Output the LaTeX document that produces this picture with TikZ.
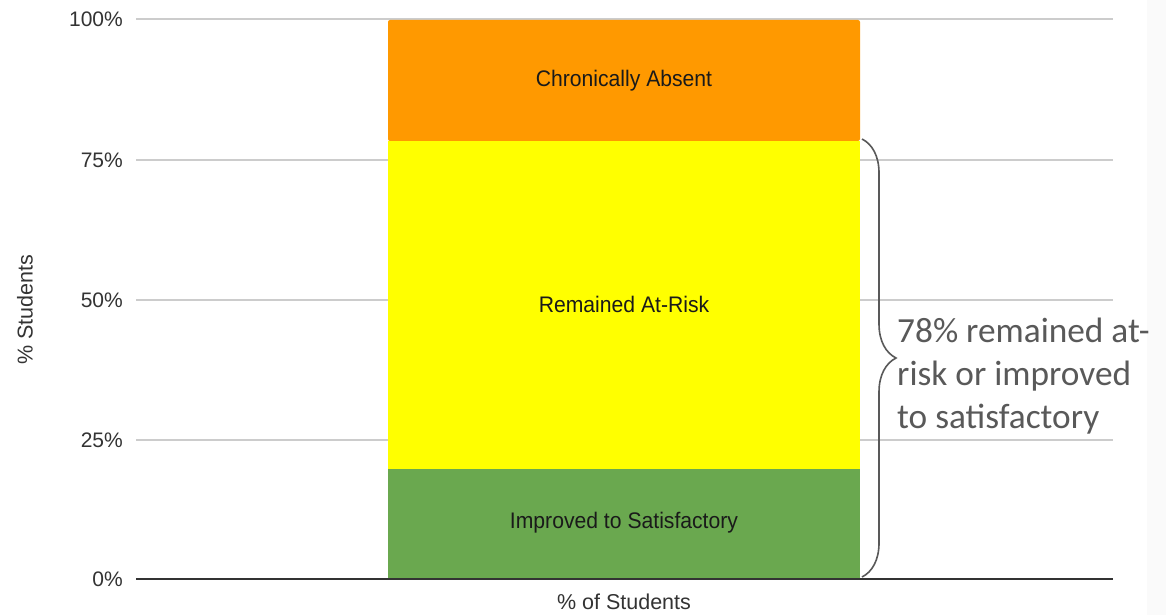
\documentclass[tikz,border=0pt]{standalone}
\usepackage{fontspec}
\setmainfont{Liberation Sans}
\newfontfamily\calib{Carlito}
\usetikzlibrary{decorations.pathreplacing}
\definecolor{orangebar}{HTML}{FF9900}
\definecolor{yellowbar}{HTML}{FFFF00}
\definecolor{greenbar}{HTML}{6AA84F}
\definecolor{gridgray}{HTML}{CCCCCC}
\definecolor{axisdark}{HTML}{333333}
\definecolor{ticktext}{HTML}{333333}
\definecolor{bartext}{HTML}{1A1A1A}
\definecolor{notegray}{HTML}{595959}
\definecolor{stripgray}{HTML}{FAFAFA}
\tikzset{
  gridline/.style={draw=gridgray, line width=1.5pt},
  ticklabel/.style={anchor=east, text=ticktext, font=\fontsize{21}{24}\selectfont, inner sep=0pt},
  barlabel/.style={text=bartext, font=\fontsize{22.5}{26}\selectfont, inner sep=0pt, xscale=0.94},
  axislabel/.style={text=ticktext, font=\fontsize{21.5}{25}\selectfont, inner sep=0pt},
}
\begin{document}
\begin{tikzpicture}[x=1pt,y=-1pt]
\useasboundingbox (0,0) rectangle (1166,615);
\fill[white] (0,0) rectangle (1166,615);
\fill[stripgray] (1147,0) rectangle (1166,615);
% gridlines
\foreach \yy in {19,160,300,440} {
  \draw[gridline] (136,\yy) -- (1113,\yy);
}
% tick labels
\node[ticklabel] (t100) at (123,19) {100\%};
\node[ticklabel] (t75) at (123,160) {75\%};
\node[ticklabel] (t50) at (123,300) {50\%};
\node[ticklabel] (t25) at (123,440) {25\%};
\node[ticklabel] (t0) at (123,579) {0\%};
% bar segments
\fill[orangebar, rounded corners=2pt] (388,141) -- (388,20) -- (860,20) -- (860,141) -- cycle;
\fill[yellowbar] (388,141) rectangle (860,469);
\fill[greenbar] (388,469) rectangle (860,579);
% baseline
\draw[draw=axisdark, line width=2pt] (136,579) -- (1113,579);
% bar labels
\node[barlabel] (ca) at (624,81) {Chronically Absent};
\node[barlabel] (ra) at (624,304) {Remained At-Risk};
\node[barlabel] (is) at (624,523) {Improved to Satisfactory};
% axis labels
\node[axislabel] (xl) at (624,602) {\% of Students};
\node[axislabel, rotate=90] (yl) at (25,310) {\% Students};
% brace
\coordinate (btop) at (862,139);
\coordinate (bbot) at (862,577);
\draw[draw=notegray, line width=1.6pt, decorate, decoration={brace, amplitude=34pt, aspect=0.5}] (btop) -- (bbot);
% note
\node[anchor=north west, align=left, text=notegray, inner sep=0pt, font=\calib\fontsize{35.3}{43}\selectfont] (note) at (897,318)
  {78\% remained at-\\risk or improved\\to satisfactory};
\end{tikzpicture}
\end{document}
